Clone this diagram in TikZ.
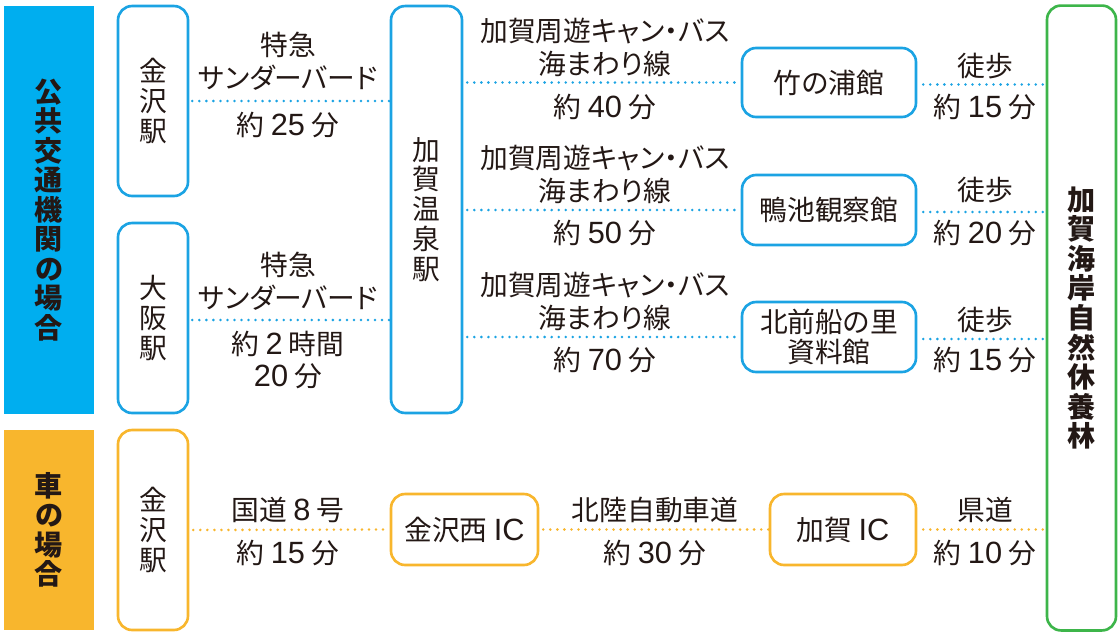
\documentclass[tikz,border=0pt]{standalone}
\usepackage{fontspec}
\setmainfont[RawFeature=+palt]{Noto Sans CJK JP}
\newfontfamily\latinf{Liberation Sans}
\definecolor{cblue}{HTML}{1BA3E3}
\definecolor{barblue}{HTML}{00AEEF}
\definecolor{corange}{HTML}{F8B62D}
\definecolor{cgreen}{HTML}{3DB54A}
\definecolor{ink}{HTML}{231815}
\newcommand\lblfont{\fontsize{15.8pt}{18.7pt}\selectfont}
\newcommand\vfont{\fontsize{15.8pt}{17pt}\selectfont}
\newcommand\bfont{\fontsize{16pt}{16.8pt}\selectfont\bfseries}
\newcommand\nm[1]{{\latinf\fontsize{17.5pt}{18.7pt}\selectfont #1}}
\begin{document}
\begin{tikzpicture}[x=0.02cm,y=-0.02cm,
  box/.style={draw=#1, line width=1.5pt, rounded corners=8pt, fill=white, text=ink, inner sep=0pt, align=center},
  bar/.style={fill=#1, draw=none, text=ink, inner sep=0pt, align=center, font=\bfont},
  lbl/.style={text=ink, inner sep=0pt, align=center, font=\lblfont},
  dotline/.style={draw=#1, line width=1.6pt, line cap=round, dash pattern=on 0pt off 4pt},
]
\useasboundingbox (0,0) rectangle (1120,637);
% side bars
\node[bar=barblue, minimum width=1.8cm, minimum height=8.16cm] (pub) at (49,210) {公\\共\\交\\通\\機\\関\\の\\場\\合};
\node[bar=corange, minimum width=1.8cm, minimum height=4.0cm] (car) at (49,530) {車\\の\\場\\合};
% station boxes
\node[box=cblue, minimum width=1.4cm, minimum height=3.8cm, font=\vfont] (kz) at (153,101) {金\\沢\\駅};
\node[box=cblue, minimum width=1.4cm, minimum height=3.8cm, font=\vfont] (os) at (153,318) {大\\阪\\駅};
\node[box=cblue, minimum width=1.42cm, minimum height=8.14cm, font=\vfont] (kg) at (426.5,209.5) {加\\賀\\温\\泉\\駅};
\node[box=corange, minimum width=1.4cm, minimum height=4.0cm, font=\vfont] (kzc) at (153,530) {金\\沢\\駅};
\node[box=corange, minimum width=2.94cm, minimum height=1.42cm, font=\lblfont] (nic) at (464.5,529.5) {金沢西 \nm{IC}};
\node[box=corange, minimum width=2.92cm, minimum height=1.42cm, font=\lblfont] (kic) at (843,529.5) {加賀 \nm{IC}};
\node[box=cblue, minimum width=3.48cm, minimum height=1.38cm, font=\lblfont] (take) at (829,82.5) {竹の浦館};
\node[box=cblue, minimum width=3.48cm, minimum height=1.4cm, font=\lblfont] (kamo) at (829,210) {鴨池観察館};
\node[box=cblue, minimum width=3.48cm, minimum height=1.4cm, font=\fontsize{15.8pt}{17.5pt}\selectfont] (kita) at (829,337) {北前船の里\\資料館};
\node[box=cgreen, minimum width=1.38cm, minimum height=12.5cm, font=\bfont] (goal) at (1081.5,318) {加\\賀\\海\\岸\\自\\然\\休\\養\\林};
% connectors
\draw[dotline=cblue] (kz.east) ++(3,0) coordinate (kzs) -- (kzs -| kg.west);
\draw[dotline=cblue] (os.east) ++(3,2) coordinate (oss) -- (oss -| kg.west);
\draw[dotline=cblue] (take.west -| kg.east) ++(4,0) -- (take.west);
\draw[dotline=cblue] (kamo.west -| kg.east) ++(4,0) -- (kamo.west);
\draw[dotline=cblue] (kita.west -| kg.east) ++(4,0) -- (kita.west);
\draw[dotline=cblue] (take.east) ++(6,2) coordinate (ts) -- (ts -| goal.west);
\draw[dotline=cblue] (kamo.east) ++(6,2) coordinate (ks) -- (ks -| goal.west);
\draw[dotline=cblue] (kita.east) ++(6,2) coordinate (hs) -- (hs -| goal.west);
\draw[dotline=corange] (kzc.east) ++(4,0) -- (nic.west);
\draw[dotline=corange] (nic.east) ++(4,0) -- (kic.west);
\draw[dotline=corange] (kic.east) ++(6,0) coordinate (cs) -- (cs -| goal.west);
% labels
\node[lbl] (l1a) at (288,61) {特急\\サンダーバード};
\node[lbl] (l1b) at (288,125) {約 \nm{25} 分};
\node[lbl] (l2a) at (288,281) {特急\\サンダーバード};
\node[lbl] (l2b) at (288,360) {約 \nm{2} 時間\\\nm{20} 分};
\node[lbl] (b1a) at (605,47) {加賀周遊キャン・バス\\海まわり線};
\node[lbl] (b1b) at (605,107) {約 \nm{40} 分};
\node[lbl] (b2a) at (605,174) {加賀周遊キャン・バス\\海まわり線};
\node[lbl] (b2b) at (605,233) {約 \nm{50} 分};
\node[lbl] (b3a) at (605,301) {加賀周遊キャン・バス\\海まわり線};
\node[lbl] (b3b) at (605,360) {約 \nm{70} 分};
\node[lbl] (w1a) at (985,66) {徒歩};
\node[lbl] (w1b) at (985,107) {約 \nm{15} 分};
\node[lbl] (w2a) at (985,190) {徒歩};
\node[lbl] (w2b) at (985,233) {約 \nm{20} 分};
\node[lbl] (w3a) at (985,320) {徒歩};
\node[lbl] (w3b) at (985,360) {約 \nm{15} 分};
\node[lbl] (c1a) at (288,510) {国道 \nm{8} 号};
\node[lbl] (c1b) at (288,553) {約 \nm{15} 分};
\node[lbl] (c2a) at (655,510) {北陸自動車道};
\node[lbl] (c2b) at (655,553) {約 \nm{30} 分};
\node[lbl] (c3a) at (985,510) {県道};
\node[lbl] (c3b) at (985,553) {約 \nm{10} 分};
\end{tikzpicture}
\end{document}
